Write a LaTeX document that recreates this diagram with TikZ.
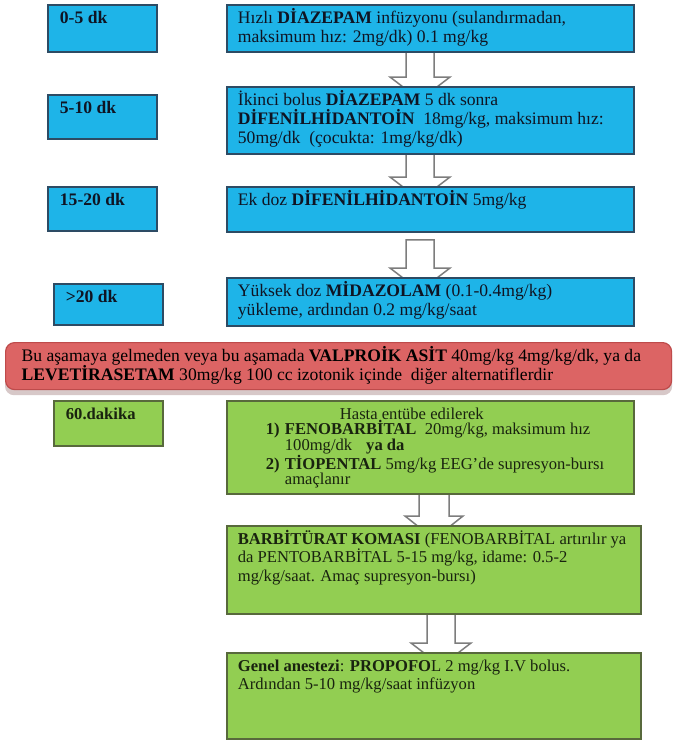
\documentclass[tikz,border=0pt]{standalone}
\usepackage{fontspec}
\setmainfont{Liberation Serif}
\usetikzlibrary{calc,backgrounds}

\definecolor{skyfill}{RGB}{30,180,232}
\definecolor{skyline}{RGB}{45,75,100}
\definecolor{leaffill}{RGB}{146,206,82}
\definecolor{leafline}{RGB}{88,105,60}
\definecolor{alertfill}{RGB}{220,100,100}
\definecolor{alertline}{RGB}{190,75,75}
\definecolor{alertshadow}{RGB}{215,200,200}
\definecolor{arrowline}{RGB}{125,125,125}
\definecolor{inkblue}{RGB}{15,20,35}
\definecolor{inkgreen}{RGB}{25,35,15}

% fixed-size, top-aligned text block: width, height, content
\newcommand\cardtext[3]{\parbox[c][#2pt][t]{#1pt}{\raggedright\vspace*{2.5pt}\rule{0pt}{16pt}#3}}

% hollow block arrow from one card to the next
% #1 source, #2 target, #3 centre x, #4 gap below source, #5 shaft half width, #6 head half width
\newcommand\flowarrow[6]{%
  \path[blockarrow] let \p1=(#1.south), \p2=(#2.north) in
    ({#3-#5},{\y1-(#4)}) -- ({#3-#5},{\y2+9}) -- ({#3-#6},{\y2+9}) -- (#3,{\y2-14})
    -- ({#3+#6},{\y2+9}) -- ({#3+#5},{\y2+9}) -- ({#3+#5},{\y1-(#4)}) -- cycle;}

\tikzset{
  card/.style={anchor=north west, inner ysep=0pt, line width=1.8pt},
  skycard/.style={card, fill=skyfill, draw=skyline, text=inkblue, inner xsep=11pt,
    font=\fontsize{17.6}{19}\selectfont},
  skytag/.style={skycard, inner xsep=12pt, font=\fontsize{17.6}{19}\selectfont\bfseries},
  leafcard/.style={card, fill=leaffill, draw=leafline, text=inkgreen, inner xsep=11pt,
    font=\fontsize{16.6}{18.5}\selectfont},
  leaftag/.style={leafcard, inner xsep=12pt, font=\fontsize{16.6}{18.5}\selectfont\bfseries},
  alertcard/.style={card, fill=alertfill, draw=alertline, line width=1.2pt, rounded corners=9pt,
    inner xsep=16pt, text=black, font=\fontsize{17.6}{18}\selectfont},
  blockarrow/.style={draw=arrowline, fill=white, line width=1.5pt, line join=miter},
}

\begin{document}
\begin{tikzpicture}[x=1pt,y=1pt]
\useasboundingbox (0,0) rectangle (676,-742);

% time labels
\node[skytag] (t1) at (47,-4)   {\cardtext{85}{47}{0-5 dk}};
\node[skytag] (t2) at (47,-94)  {\cardtext{85}{44}{5-10 dk}};
\node[skytag] (t3) at (47,-186) {\cardtext{85}{44}{15-20 dk}};
\node[skytag] (t4) at (53,-283) {\cardtext{85}{41}{>20 dk}};
\node[leaftag] (t5) at (53,-400) {\cardtext{85}{45}{60.dakika}};

% first-line treatment steps
\node[skycard] (s1) at (226,-4) {\cardtext{385}{47}{Hızlı \textbf{DİAZEPAM} infüzyonu (sulandırmadan,\\
  maksimum hız: 2mg/dk) 0.1 mg/kg}};
\node[skycard] (s2) at (226,-86) {\cardtext{385}{67}{İkinci bolus \textbf{DİAZEPAM} 5 dk sonra\\
  \textbf{DİFENİLHİDANTOİN}\ \ 18mg/kg, maksimum hız:\\
  50mg/dk\ \ (çocukta: 1mg/kg/dk)}};
\node[skycard] (s3) at (226,-186) {\cardtext{385}{45}{Ek doz \textbf{DİFENİLHİDANTOİN} 5mg/kg}};
\node[skycard] (s4) at (226,-277) {\cardtext{385}{48}{Yüksek doz \textbf{MİDAZOLAM} (0.1-0.4mg/kg)\\
  yükleme, ardından 0.2 mg/kg/saat}};

% alternatives banner
\node[alertcard] (v) at (5,-342) {\cardtext{634}{47}{\mbox{Bu aşamaya gelmeden veya bu aşamada \textbf{VALPROİK ASİT} 40mg/kg 4mg/kg/dk, ya da}\\
  \mbox{\textbf{LEVETİRASETAM} 30mg/kg 100 cc izotonik içinde\ \ diğer alternatiflerdir}}};

% refractory stage
\node[leafcard, font=\fontsize{16.6}{15.5}\selectfont] (g1) at (226,-400) {\cardtext{385}{93}{%
  \hspace*{102pt}Hasta entübe edilerek\\
  \mbox{\hspace*{28pt}\makebox[19pt][l]{\textbf{1)}}\textbf{FENOBARBİTAL}\ \ 20mg/kg, maksimum hız}\\
  \hspace*{47pt}100mg/dk\hspace{14pt}\textbf{ya da}\\
  \mbox{\hspace*{28pt}\makebox[19pt][l]{\textbf{2)}}\textbf{TİOPENTAL} 5mg/kg EEG’de supresyon-bursı}\\
  \hspace*{47pt}amaçlanır}};
\node[leafcard] (g2) at (226,-525) {\cardtext{392}{88}{\mbox{\textbf{BARBİTÜRAT KOMASI} (FENOBARBİTAL artırılır ya}\\
  da PENTOBARBİTAL 5-15 mg/kg, idame: 0.5-2\\
  mg/kg/saat. Amaç supresyon-bursı)}};
\node[leafcard] (g3) at (226,-652) {\cardtext{392}{86}{\textbf{Genel anestezi}: \textbf{PROPOFO}L 2 mg/kg I.V bolus.\\
  Ardından 5-10 mg/kg/saat infüzyon}};

\begin{pgfonlayer}{background}
  \fill[white] (0,0) rectangle (676,-742);
  \fill[alertshadow, rounded corners=9pt] ([yshift=-5pt]v.south west) rectangle ([yshift=-5pt]v.north east);
  \flowarrow{s1}{s2}{420}{-4}{14}{30}
  \flowarrow{s2}{s3}{420}{-4}{14}{30}
  \flowarrow{s3}{s4}{420}{7}{14}{30}
  \flowarrow{g1}{g2}{434}{-4}{15}{29}
  \flowarrow{g2}{g3}{441}{-4}{14}{30}
\end{pgfonlayer}
\end{tikzpicture}
\end{document}
